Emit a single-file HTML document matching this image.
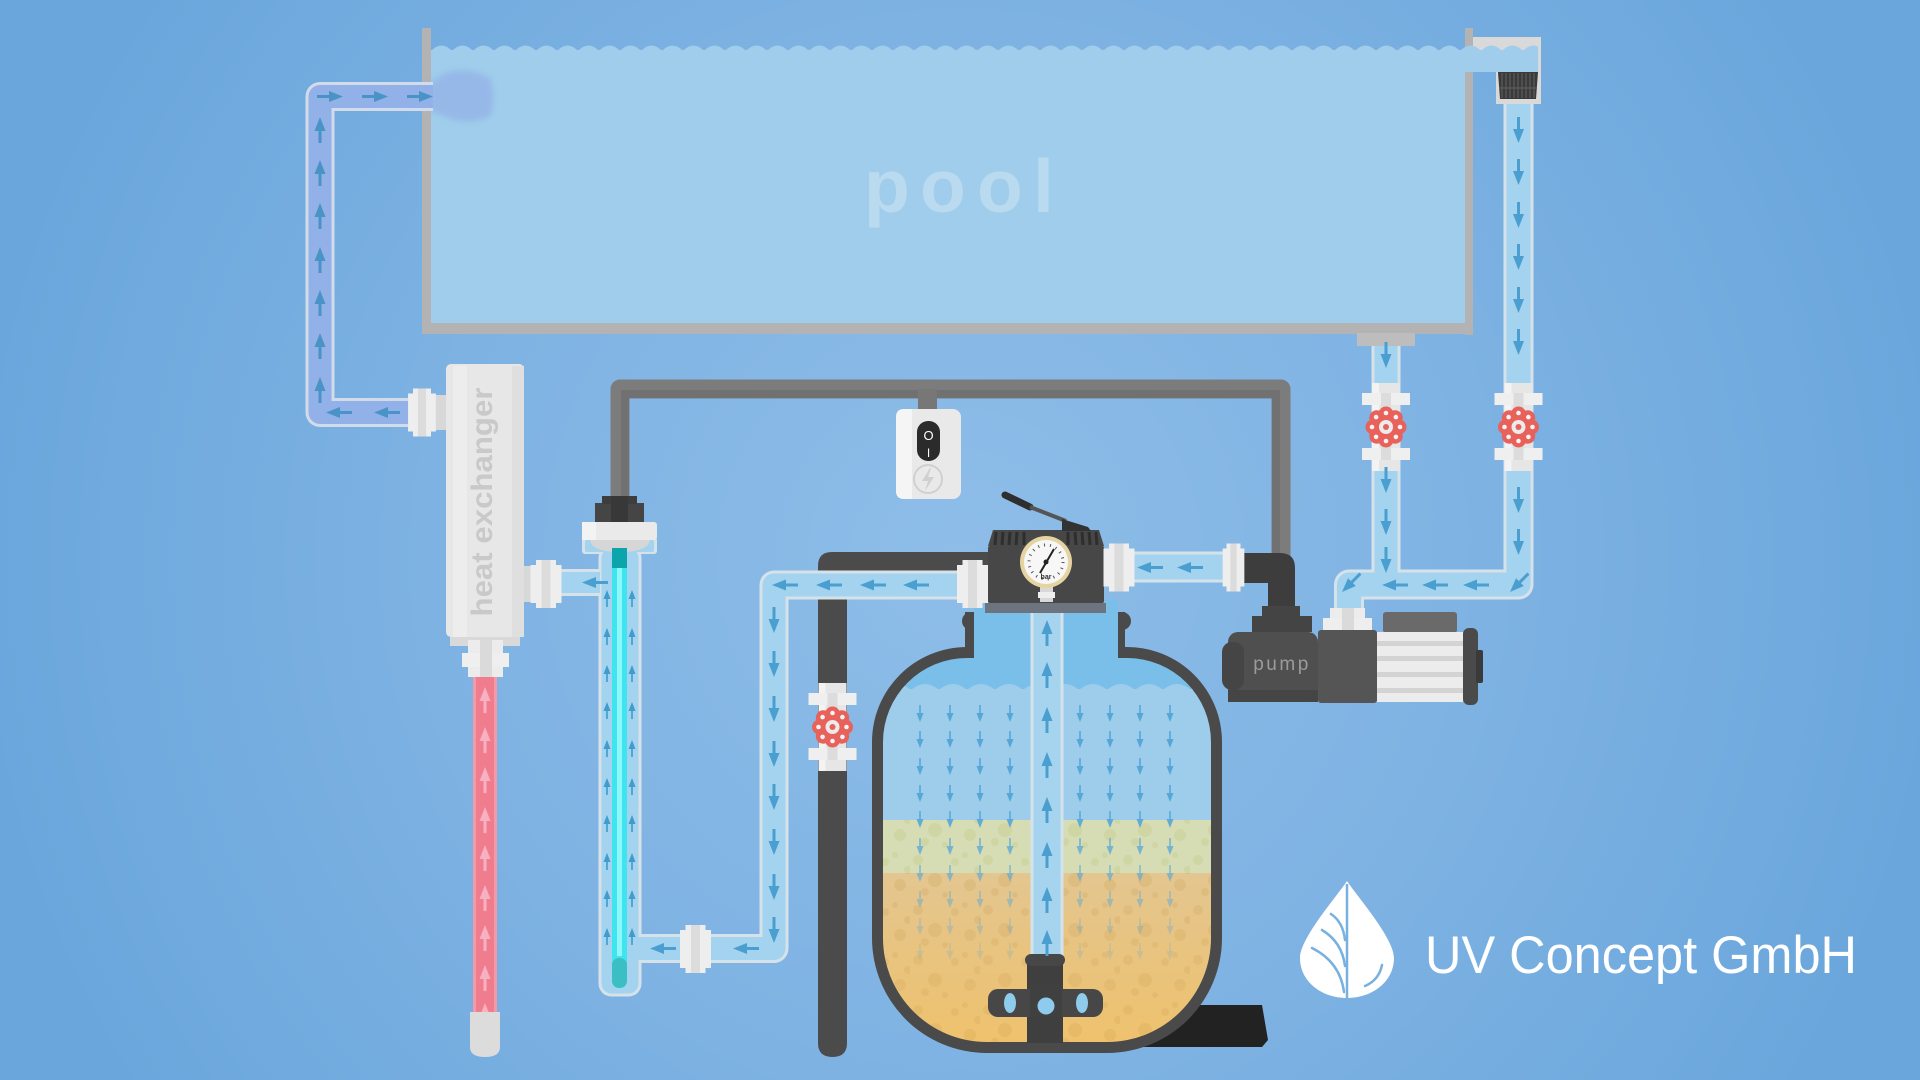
<!DOCTYPE html>
<html><head><meta charset="utf-8"><style>html,body{margin:0;padding:0;background:#78afe1;}svg{display:block}</style></head>
<body>
<svg width="1920" height="1080" viewBox="0 0 1920 1080" xmlns="http://www.w3.org/2000/svg">
<defs>
<radialGradient id="bg" gradientUnits="userSpaceOnUse" cx="960" cy="560" r="1100">
<stop offset="0" stop-color="#8ebde8"/><stop offset="0.45" stop-color="#7fb3e3"/><stop offset="0.9" stop-color="#6aa6dc"/></radialGradient>
<pattern id="pw" x="431" y="43" width="21" height="8" patternUnits="userSpaceOnUse"><path d="M0 8 Q10.5 -3 21 8 Z" fill="#9fcdeb"/></pattern>
<pattern id="tw" x="883" y="681" width="28" height="9" patternUnits="userSpaceOnUse"><path d="M0 9 Q14 -3 28 9 Z" fill="#9dcdeb"/></pattern>
<pattern id="sp1" width="70" height="50" patternUnits="userSpaceOnUse"><g fill="rgba(185,185,110,0.22)"><circle cx="8" cy="10" r="5"/><circle cx="25" cy="30" r="7"/><circle cx="45" cy="12" r="4"/><circle cx="60" cy="35" r="6"/><circle cx="35" cy="45" r="3"/><circle cx="15" cy="42" r="4"/><circle cx="55" cy="5" r="3"/><circle cx="68" cy="20" r="4"/></g></pattern>
<pattern id="sp2" width="70" height="50" patternUnits="userSpaceOnUse"><g fill="rgba(190,140,60,0.16)"><circle cx="8" cy="10" r="5"/><circle cx="25" cy="30" r="7"/><circle cx="45" cy="12" r="4"/><circle cx="60" cy="35" r="6"/><circle cx="35" cy="45" r="3"/><circle cx="15" cy="42" r="4"/><circle cx="55" cy="5" r="3"/><circle cx="68" cy="20" r="4"/></g></pattern>
<linearGradient id="sand" x1="0" y1="0" x2="0" y2="1"><stop offset="0" stop-color="#e3c690"/><stop offset="1" stop-color="#efc16b"/></linearGradient>
<clipPath id="tc"><path d="M967 658 L1127 658 A84 84 0 0 1 1211 742 L1211 938 A104 104 0 0 1 1107 1042 L987 1042 A104 104 0 0 1 883 938 L883 742 A84 84 0 0 1 967 658 Z"/><rect x="974" y="600" width="144" height="70"/></clipPath>
<filter id="blur" x="-50%" y="-50%" width="200%" height="200%"><feGaussianBlur stdDeviation="3"/></filter>
<g id="a"><path d="M0 0L-5.5 -14L5.5 -14Z"/><rect x="-1.5" y="-26" width="3" height="13"/></g>
<g id="s"><path d="M0 0L-3.5 -9L3.5 -9Z"/><rect x="-0.8" y="-17" width="1.6" height="9"/></g>
<g id="fl"><g fill="#e8625b"><circle cx="13" cy="0" r="7.5"/><circle cx="9.2" cy="9.2" r="7.5"/><circle cx="0" cy="13" r="7.5"/><circle cx="-9.2" cy="9.2" r="7.5"/><circle cx="-13" cy="0" r="7.5"/><circle cx="-9.2" cy="-9.2" r="7.5"/><circle cx="0" cy="-13" r="7.5"/><circle cx="9.2" cy="-9.2" r="7.5"/><circle r="13"/></g>
<g fill="#f4f4f4"><circle cx="14" cy="0" r="2.3"/><circle cx="9.9" cy="9.9" r="2.3"/><circle cx="0" cy="14" r="2.3"/><circle cx="-9.9" cy="9.9" r="2.3"/><circle cx="-14" cy="0" r="2.3"/><circle cx="-9.9" cy="-9.9" r="2.3"/><circle cx="0" cy="-14" r="2.3"/><circle cx="9.9" cy="-9.9" r="2.3"/></g>
<circle r="7" fill="#ebebeb"/><circle r="3" fill="#e8625b"/></g>
<g id="vl"><rect x="-14" y="-44" width="28" height="88" fill="#e6e6e6"/><rect x="-14" y="-44" width="7" height="88" fill="#f3f3f3"/><rect x="-24" y="-34" width="48" height="12" fill="#efefef"/><rect x="-24" y="21" width="48" height="12" fill="#efefef"/><rect x="-5" y="-34" width="10" height="67" fill="#dcdcdc"/><use href="#fl"/></g>
<g id="fh"><rect x="-15.5" y="-19" width="31" height="38" fill="#eeeeee"/><rect x="-10" y="-24" width="20" height="48" fill="#eeeeee"/><rect x="-4.5" y="-24" width="9" height="48" fill="#dcdcdc"/></g>
<g id="col">
<use href="#s" y="722"/><use href="#s" y="748"/><use href="#s" y="775"/><use href="#s" y="802"/><use href="#s" y="828" opacity="0.9"/><use href="#s" y="855" opacity="0.75"/><use href="#s" y="882" opacity="0.6"/><use href="#s" y="908" opacity="0.45"/><use href="#s" y="935" opacity="0.3"/><use href="#s" y="960" opacity="0.2"/>
</g>
</defs>

<!-- background -->
<rect width="1920" height="1080" fill="url(#bg)"/>

<!-- pool -->
<rect x="431" y="50" width="1034" height="274" fill="#9fcdeb"/>
<rect x="431" y="43" width="1034" height="8" fill="url(#pw)"/>
<text x="864 920 977 1033" y="212" font-family="Liberation Sans, sans-serif" font-weight="bold" font-size="75" fill="#b9daef">pool</text>
<rect x="422" y="28" width="9" height="305" fill="#b3b3b3"/>
<rect x="422" y="323" width="1051" height="11" fill="#b3b3b3"/>
<rect x="1465" y="28" width="8" height="307" fill="#b3b3b3"/>
<rect x="1357" y="333" width="58" height="13" fill="#bdbdbd"/>
<!-- skimmer -->
<rect x="1473" y="37" width="68" height="35" fill="#d9d9d9"/>
<rect x="1496" y="72" width="45" height="32" fill="#d9d9d9"/>
<rect x="1465" y="50" width="73" height="22" fill="#9fcdeb"/>
<rect x="1465" y="43" width="73" height="8" fill="url(#pw)"/>
<polygon points="1498,72 1538,72 1536,99 1500,99" fill="#3a3a3a"/>
<g stroke="#5c5c5c" stroke-width="1.2"><line x1="1502" y1="73" x2="1502" y2="98"/><line x1="1506" y1="73" x2="1506" y2="98"/><line x1="1510" y1="73" x2="1510" y2="98"/><line x1="1514" y1="73" x2="1514" y2="98"/><line x1="1518" y1="73" x2="1518" y2="98"/><line x1="1522" y1="73" x2="1522" y2="98"/><line x1="1526" y1="73" x2="1526" y2="98"/><line x1="1530" y1="73" x2="1530" y2="98"/><line x1="1534" y1="73" x2="1534" y2="98"/><line x1="1499" y1="88" x2="1537" y2="88"/></g>

<!-- conduit -->
<path d="M620 497 V389 H1281 V560" fill="none" stroke="#7c7c7c" stroke-width="19" stroke-linejoin="round"/>
<path d="M625 497 V394 H1276 V560" fill="none" stroke="#717171" stroke-width="8"/>
<!-- switch -->
<rect x="918" y="389" width="19" height="22" fill="#777"/>
<rect x="896" y="409" width="65" height="90" rx="8" fill="#e9e9e9"/>
<path d="M904 409 H912 V499 H904 Q896 499 896 491 V417 Q896 409 904 409 Z" fill="#f5f5f5"/>
<rect x="917" y="421" width="23" height="40" rx="11" fill="#2b2b2b"/>
<text x="928.5" y="440" font-family="Liberation Sans, sans-serif" font-size="13" fill="#ffffff" text-anchor="middle">O</text>
<text x="928.5" y="457" font-family="Liberation Sans, sans-serif" font-size="12" fill="#ffffff" text-anchor="middle">I</text>
<circle cx="928" cy="479" r="14" fill="none" stroke="#d0d0d0" stroke-width="2"/>
<polygon points="930,468 922,481 928,481 925,491 934,477 928,477 931,468" fill="#d0d0d0"/>

<!-- purple pipe -->
<path d="M428 84 L445 73 Q470 66 490 78 Q497 98 490 116 Q470 126 448 118 L428 110 Z" fill="#95b5e8" opacity="0.85" filter="url(#blur)"/>
<path d="M408 412.5 H320 V96.5 H433" fill="none" stroke="#d2dbe9" stroke-width="29" stroke-linejoin="round"/>
<path d="M408 412.5 H320 V96.5 H433" fill="none" stroke="#92b1e8" stroke-width="23" stroke-linejoin="round"/>

<!-- dark backwash pipe -->
<path d="M818 1043 L818 566 Q818 552 832 552 L990 552 L990 590 L847 590 L847 1043 Q847 1057 832.5 1057 Q818 1057 818 1043 Z" fill="#4b4b4b"/>

<!-- light pipes borders -->
<g fill="none" stroke="#d6e2ea" stroke-linejoin="round">
<path d="M1518.5 104 V584.5 H1349 V612" stroke-width="30"/>
<path d="M1386 346 V584" stroke-width="29"/>
<path d="M1244 567 H1130" stroke-width="31"/>
<path d="M980 585 H774 V948.5 H625" stroke-width="29"/>
<path d="M600 582.5 H540" stroke-width="27"/>
</g>
<rect x="598.5" y="545" width="43" height="451.5" rx="13" fill="#d6e2ea"/>
<rect x="582" y="537" width="75" height="17" rx="3" fill="#d6e2ea"/>
<g fill="none" stroke="#a3d3ee" stroke-linejoin="round">
<path d="M1518.5 104 V584.5 H1349 V612" stroke-width="24"/>
<path d="M1386 346 V584" stroke-width="23"/>
<path d="M1244 567 H1130" stroke-width="25"/>
<path d="M980 585 H774 V948.5 H625" stroke-width="23"/>
<path d="M600 582.5 H540" stroke-width="21"/>
</g>
<rect x="601.5" y="548" width="37" height="445.5" rx="10" fill="#a3d3ee"/>
<rect x="585" y="540" width="69" height="12" rx="2" fill="#a3d3ee"/>
<path d="M590 540 H650 Q648 552 620 552 Q592 552 590 540 Z" fill="#d6d6d6"/>

<!-- UV lamp -->
<rect x="612" y="560" width="15" height="425" rx="7" fill="#3fe5ee"/>
<rect x="617" y="566" width="5" height="390" fill="#8ff6fa"/>
<rect x="612" y="958" width="15" height="30" rx="7" fill="#3bbfc4"/>
<rect x="612" y="548" width="15" height="20" fill="#0ba5ab"/>
<rect x="582" y="522" width="75" height="18" rx="3" fill="#eaeaea"/>
<rect x="582" y="522" width="14" height="18" fill="#f3f3f3"/>
<rect x="595" y="503" width="49" height="19" fill="#454545"/>
<rect x="602" y="496" width="35" height="8" fill="#3d3d3d"/>
<rect x="611" y="496" width="17" height="26" fill="#383838"/>

<!-- heat exchanger -->
<rect x="446" y="364" width="78" height="273" rx="5" fill="#e7e7e7"/>
<rect x="453" y="366" width="14" height="271" fill="#ededed"/>
<rect x="512" y="366" width="12" height="271" fill="#dfdfdf"/>
<rect x="450" y="637" width="70" height="9" fill="#d9d9d9"/>
<text transform="translate(492 502) rotate(-90)" text-anchor="middle" font-family="Liberation Sans, sans-serif" font-weight="bold" font-size="30" fill="#c9c9c9" textLength="229" lengthAdjust="spacingAndGlyphs">heat exchanger</text>
<rect x="436" y="395" width="10" height="35" fill="#d8d8d8"/>
<rect x="524" y="566" width="7" height="36" fill="#d8d8d8"/>
<!-- red pipe -->
<rect x="473" y="677" width="24" height="336" fill="#f07d8d"/>
<rect x="473" y="677" width="3" height="336" fill="#f29aa7"/>
<rect x="494" y="677" width="3" height="336" fill="#f29aa7"/>
<g fill="#f7b1c0">
<use href="#a" transform="translate(485 687) rotate(180)"/><use href="#a" transform="translate(485 727) rotate(180)"/><use href="#a" transform="translate(485 767) rotate(180)"/><use href="#a" transform="translate(485 807) rotate(180)"/><use href="#a" transform="translate(485 845) rotate(180)"/><use href="#a" transform="translate(485 885) rotate(180)"/><use href="#a" transform="translate(485 925) rotate(180)"/><use href="#a" transform="translate(485 965) rotate(180)"/><use href="#a" transform="translate(485 1003) rotate(180)"/>
</g>
<path d="M470 1012 H500 V1047 Q500 1057 485 1057 Q470 1057 470 1047 Z" fill="#dcdcdc"/>
<rect x="468" y="640" width="35" height="37" fill="#ececec"/>
<rect x="462" y="653" width="47" height="14" fill="#efefef"/>
<rect x="480" y="640" width="12" height="37" fill="#dadada"/>

<!-- filter tank -->
<polygon points="1140,1005 1262,1005 1268,1040 1262,1047 1140,1047" fill="#222222"/>
<path d="M967 647 L1127 647 A95 95 0 0 1 1222 742 L1222 938 A115 115 0 0 1 1107 1053 L987 1053 A115 115 0 0 1 872 938 L872 742 A95 95 0 0 1 967 647 Z" fill="#4a4a4a"/>
<rect x="965" y="612" width="160" height="45" fill="#4a4a4a"/>
<circle cx="971" cy="621" r="9" fill="#4a4a4a"/>
<circle cx="1122" cy="621" r="9" fill="#4a4a4a"/>
<g clip-path="url(#tc)">
<rect x="870" y="600" width="360" height="90" fill="#79bfe9"/>
<rect x="883" y="681" width="330" height="9" fill="url(#tw)"/>
<rect x="870" y="689" width="360" height="132" fill="#9dcdeb"/>
<rect x="870" y="820" width="360" height="54" fill="#d6dcb4"/>
<rect x="870" y="820" width="360" height="54" fill="url(#sp1)"/>
<rect x="870" y="873" width="360" height="180" fill="url(#sand)"/>
<rect x="870" y="873" width="360" height="180" fill="url(#sp2)"/>
<g fill="#55a7d8">
<use href="#col" x="920"/><use href="#col" x="950"/><use href="#col" x="980"/><use href="#col" x="1010"/><use href="#col" x="1080"/><use href="#col" x="1110"/><use href="#col" x="1140"/><use href="#col" x="1170"/>
</g>
</g>
<rect x="1032" y="604" width="30" height="358" fill="#a6d4ef" stroke="#d3e3ec" stroke-width="3"/>
<rect x="1027" y="958" width="36" height="85" fill="#3f3f3f"/>
<rect x="1025" y="954" width="40" height="12" rx="6" fill="#474747"/>
<rect x="988" y="989" width="115" height="28" rx="10" fill="#474747"/>
<rect x="1030" y="983" width="32" height="34" fill="#404040"/>
<ellipse cx="1010" cy="1003" rx="6" ry="10" fill="#8fcbec"/>
<circle cx="1046" cy="1006" r="8.5" fill="#8fcbec"/>
<ellipse cx="1082" cy="1003" rx="6" ry="10" fill="#8fcbec"/>
<g fill="#4a9fd0">
<use href="#a" transform="translate(1047 620) rotate(180)"/><use href="#a" transform="translate(1047 662) rotate(180)"/><use href="#a" transform="translate(1047 707) rotate(180)"/><use href="#a" transform="translate(1047 752) rotate(180)"/><use href="#a" transform="translate(1047 797) rotate(180)"/><use href="#a" transform="translate(1047 842) rotate(180)"/><use href="#a" transform="translate(1047 887) rotate(180)"/><use href="#a" transform="translate(1047 930) rotate(180)"/>
</g>

<!-- multiport valve -->
<rect x="985" y="603" width="121" height="10" fill="#6d7480"/>
<polygon points="993,530 1099,530 1104,546 988,546" fill="#474747"/>
<g stroke="#2e2e2e" stroke-width="3"><line x1="996" y1="532" x2="995" y2="545"/><line x1="1003" y1="532" x2="1002" y2="545"/><line x1="1010" y1="532" x2="1009" y2="545"/><line x1="1017" y1="532" x2="1016" y2="545"/><line x1="1024" y1="532" x2="1024" y2="545"/><line x1="1068" y1="532" x2="1068" y2="545"/><line x1="1075" y1="532" x2="1076" y2="545"/><line x1="1082" y1="532" x2="1083" y2="545"/><line x1="1089" y1="532" x2="1090" y2="545"/><line x1="1096" y1="532" x2="1097" y2="545"/></g>
<rect x="988" y="546" width="116" height="57" rx="2" fill="#474747"/>
<line x1="1005" y1="495" x2="1030" y2="507" stroke="#2e2e2e" stroke-width="7" stroke-linecap="round"/>
<line x1="1030" y1="507" x2="1066" y2="521" stroke="#555" stroke-width="4"/>
<polygon points="1062,519 1088,527 1091,531 1062,531" fill="#333"/>
<rect x="1040" y="584" width="13" height="18" fill="#d8d8d8"/>
<rect x="1038" y="592" width="17" height="6" fill="#eeeeee"/>
<circle cx="1046" cy="562" r="26" fill="#e5d3a1"/>
<circle cx="1046" cy="562" r="22" fill="#f7f7f7"/>
<circle cx="1046" cy="562" r="17" fill="none" stroke="#555" stroke-width="3" stroke-dasharray="1 5"/>
<line x1="1040" y1="573" x2="1054" y2="549" stroke="#222" stroke-width="2"/>
<circle cx="1046" cy="562" r="2.5" fill="#222"/>
<text x="1046" y="579" font-family="Liberation Sans, sans-serif" font-size="7" font-weight="bold" fill="#333" text-anchor="middle">bar</text>

<!-- pump -->
<path d="M1244 553 H1280 Q1295 553 1295 568 V610 H1268 V583 H1244 Z" fill="#3d3d3d"/>
<rect x="1262" y="606" width="38" height="11" fill="#444"/>
<rect x="1252" y="616" width="60" height="16" fill="#444"/>
<rect x="1228" y="632" width="90" height="70" rx="10" fill="#4f4f4f"/>
<rect x="1228" y="690" width="90" height="12" fill="#454545"/>
<rect x="1222" y="642" width="22" height="48" rx="10" fill="#454545"/>
<text x="1282" y="670" font-family="Liberation Sans, sans-serif" font-size="19" fill="#9b9b9b" text-anchor="middle" letter-spacing="2.5">pump</text>
<rect x="1318" y="630" width="59" height="73" rx="3" fill="#555555"/>
<rect x="1383" y="612" width="74" height="21" rx="3" fill="#6a6a6a"/>
<rect x="1377" y="632" width="86" height="70" fill="#ececec"/>
<g fill="#d3d3d3"><rect x="1377" y="641" width="86" height="5"/><rect x="1377" y="656" width="86" height="5"/><rect x="1377" y="672" width="86" height="5"/><rect x="1377" y="688" width="86" height="5"/></g>
<rect x="1463" y="628" width="15" height="77" rx="6" fill="#4a4a4a"/>
<rect x="1476" y="650" width="7" height="33" rx="2" fill="#3a3a3a"/>
<rect x="1330" y="608" width="35" height="11" fill="#ececec"/>
<rect x="1323" y="618" width="49" height="12" fill="#eeeeee"/>
<rect x="1342" y="608" width="12" height="22" fill="#dadada"/>

<!-- fittings -->
<use href="#fh" transform="translate(422 412.5) scale(0.9 1)"/>
<use href="#fh" transform="translate(546 584)"/>
<use href="#fh" transform="translate(695.5 949)"/>
<use href="#fh" transform="translate(972.5 584)"/>
<use href="#fh" transform="translate(1119 567.5)"/>
<use href="#fh" transform="translate(1233.5 567.5) scale(0.7 1)"/>

<!-- valves -->
<use href="#vl" transform="translate(1386 427)"/>
<use href="#vl" transform="translate(1518.5 427)"/>
<use href="#vl" transform="translate(832.5 727)"/>

<!-- purple arrows -->
<g fill="#4a93c6">
<use href="#a" transform="translate(320 117) rotate(180)"/><use href="#a" transform="translate(320 160) rotate(180)"/><use href="#a" transform="translate(320 203) rotate(180)"/><use href="#a" transform="translate(320 247) rotate(180)"/><use href="#a" transform="translate(320 290) rotate(180)"/><use href="#a" transform="translate(320 333) rotate(180)"/><use href="#a" transform="translate(320 377) rotate(180)"/>
<use href="#a" transform="translate(343 96.5) rotate(-90)"/><use href="#a" transform="translate(388 96.5) rotate(-90)"/><use href="#a" transform="translate(433 96.5) rotate(-90)"/>
<use href="#a" transform="translate(326 412.5) rotate(90)"/><use href="#a" transform="translate(374 412.5) rotate(90)"/>
</g>
<!-- light pipe arrows -->
<g fill="#4a9fd0">
<use href="#a" transform="translate(1518.5 143)"/><use href="#a" transform="translate(1518.5 185)"/><use href="#a" transform="translate(1518.5 228)"/><use href="#a" transform="translate(1518.5 270)"/><use href="#a" transform="translate(1518.5 313)"/><use href="#a" transform="translate(1518.5 355)"/>
<use href="#a" transform="translate(1518.5 513)"/><use href="#a" transform="translate(1518.5 555)"/>
<use href="#a" transform="translate(1510 592) rotate(45)"/>
<use href="#a" transform="translate(1386 368)"/>
<use href="#a" transform="translate(1386 493)"/><use href="#a" transform="translate(1386 535)"/><use href="#a" transform="translate(1386 573)"/>
<use href="#a" transform="translate(1382 585) rotate(90)"/><use href="#a" transform="translate(1422 585) rotate(90)"/><use href="#a" transform="translate(1463 585) rotate(90)"/>
<use href="#a" transform="translate(1342 592) rotate(45)"/>
<use href="#a" transform="translate(1137 567.5) rotate(90)"/><use href="#a" transform="translate(1177 567.5) rotate(90)"/>
<use href="#a" transform="translate(772 585) rotate(90)"/><use href="#a" transform="translate(816 585) rotate(90)"/><use href="#a" transform="translate(860 585) rotate(90)"/><use href="#a" transform="translate(903 585) rotate(90)"/>
<use href="#a" transform="translate(774 633)"/><use href="#a" transform="translate(774 677)"/><use href="#a" transform="translate(774 722)"/><use href="#a" transform="translate(774 767)"/><use href="#a" transform="translate(774 810)"/><use href="#a" transform="translate(774 855)"/><use href="#a" transform="translate(774 900)"/><use href="#a" transform="translate(774 943)"/>
<use href="#a" transform="translate(650 948.5) rotate(90)"/><use href="#a" transform="translate(733 948.5) rotate(90)"/>
<use href="#a" transform="translate(582 582.5) rotate(90)"/>
</g>
<g fill="#3f9ccc">
<use href="#s" transform="translate(607 590) rotate(180)"/><use href="#s" transform="translate(607 628) rotate(180)"/><use href="#s" transform="translate(607 665) rotate(180)"/><use href="#s" transform="translate(607 702) rotate(180)"/><use href="#s" transform="translate(607 740) rotate(180)"/><use href="#s" transform="translate(607 778) rotate(180)"/><use href="#s" transform="translate(607 815) rotate(180)"/><use href="#s" transform="translate(607 853) rotate(180)"/><use href="#s" transform="translate(607 890) rotate(180)"/><use href="#s" transform="translate(607 928) rotate(180)"/>
<use href="#s" transform="translate(632 590) rotate(180)"/><use href="#s" transform="translate(632 628) rotate(180)"/><use href="#s" transform="translate(632 665) rotate(180)"/><use href="#s" transform="translate(632 702) rotate(180)"/><use href="#s" transform="translate(632 740) rotate(180)"/><use href="#s" transform="translate(632 778) rotate(180)"/><use href="#s" transform="translate(632 815) rotate(180)"/><use href="#s" transform="translate(632 853) rotate(180)"/><use href="#s" transform="translate(632 890) rotate(180)"/><use href="#s" transform="translate(632 928) rotate(180)"/>
</g>

<!-- logo -->
<path d="M1347 881 C1338 895 1300 938 1300 958 C1300 981 1321 998 1347 998 C1373 998 1394 981 1394 958 C1394 938 1356 895 1347 881 Z" fill="#ffffff"/>
<line x1="1347" y1="884" x2="1347" y2="999" stroke="#78b0e0" stroke-width="2.5"/>
<g fill="none" stroke="#78b0e0" stroke-width="2.5" stroke-linecap="round">
<path d="M1312 948 Q1340 962 1344 992"/>
<path d="M1322 930 Q1342 942 1345 966"/>
<path d="M1331 914 Q1343 922 1345 940"/>
<path d="M1382 965 Q1379 980 1365 986"/>
</g>
<text x="1425" y="973" font-family="Liberation Sans, sans-serif" font-size="53" fill="#ffffff" textLength="432" lengthAdjust="spacingAndGlyphs">UV Concept GmbH</text>
</svg>
</body></html>
